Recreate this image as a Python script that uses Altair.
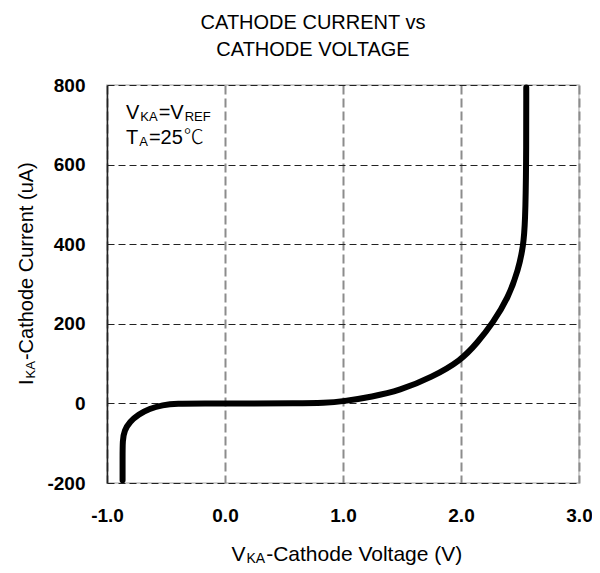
import altair as alt
import pandas as pd

# ---- data ----
volts = [-0.868, -0.868, -0.868, -0.853, -0.807, -0.735, -0.640, -0.530, -0.412,
         -0.20, 0.20, 0.60, 0.85, 1.00, 1.25, 1.476, 1.755, 2.00, 2.137, 2.27, 2.40,
         2.486, 2.528, 2.544, 2.553, 2.553]
current = [-193, -140, -92, -68, -46, -28, -13, -4, 0,
           0, 0, 0, 1, 5, 17, 32, 66, 108, 152, 202, 265,
           336, 395, 454, 600, 794]
x_ticks = [-1.0, 0.0, 1.0, 2.0, 3.0]
y_ticks = [-200, 0, 200, 400, 600, 800]
title_lines = ["CATHODE CURRENT vs", "CATHODE VOLTAGE"]

W, H = 472, 398
FONT = "Liberation Sans"
CJK = "Noto Sans CJK SC"

# approximate Arial advance widths (per 1000 em)
AW = {" ": 278, "(": 333, ")": 333, "-": 333, "=": 584, "2": 556, "5": 556,
      "A": 667, "C": 722, "E": 667, "F": 611, "I": 278, "K": 667, "R": 722,
      "T": 611, "V": 667, "a": 556, "d": 556, "e": 556, "g": 556, "h": 556,
      "l": 222, "n": 556, "o": 556, "r": 333, "t": 278, "u": 556}


def tw(s, size):
    return sum(AW.get(c, 1000) for c in s) * size / 1000.0


def run(pieces, x0, y0, main=20, sub=13, vertical=False):
    """pieces: list of (text, kind) with kind in main/sub/cjk; laid out as one run"""
    layers = []
    pos = 0.0
    for txt, kind in pieces:
        size = sub if kind == "sub" else main
        shift = 2 if kind == "sub" else 0
        font = CJK if kind == "cjk" else FONT
        if vertical:
            px, py, ang = x0 + shift, y0 - pos, 270
        else:
            px, py, ang = x0 + pos, y0 + shift, 0
        layers.append(
            alt.Chart(pd.DataFrame({"t": [txt]}))
            .mark_text(font=font, fontSize=size, align="left", baseline="alphabetic",
                       angle=ang, color="black",
                       fontWeight=200 if kind == "cjk" else "normal")
            .encode(text="t:N", x=alt.value(px), y=alt.value(py))
        )
        pos += tw(txt, size) + 1.0
    return layers


df = pd.DataFrame({"v": volts, "i": current, "k": list(range(len(volts)))})

fix_minus = "replace(datum.label, '\u2212', '-')"

curve = alt.Chart(df).mark_line(
    color="black", strokeWidth=6, interpolate="basis", strokeCap="round"
).encode(
    x=alt.X("v:Q", scale=alt.Scale(domain=[-1, 3], nice=False, zero=False),
            axis=alt.Axis(values=x_ticks, format=".1f", labelExpr=fix_minus, title=None,
                          grid=True, gridColor="#8c8c8c", gridDash=[9, 4], gridWidth=2,
                          domain=False, ticks=False, labelFlush=False, labelOverlap=False,
                          labelFont=FONT, labelFontSize=19, labelFontWeight="bold",
                          labelColor="black", labelPadding=23)),
    y=alt.Y("i:Q", scale=alt.Scale(domain=[-200, 800], nice=False, zero=False),
            axis=alt.Axis(values=y_ticks, labelExpr=fix_minus, title=None, grid=True,
                          gridColor="#222222", gridDash=[7, 4], gridWidth=1,
                          domain=True, domainColor="#222222", domainWidth=1.5,
                          ticks=False, labelFlush=False, labelOverlap=False,
                          labelFont=FONT, labelFontSize=19,
                          labelFontWeight="bold", labelColor="black", labelPadding=22)),
    order="k:Q",
)

texts = []
texts += run([("V", "main"), ("KA", "sub"), ("=V", "main"), ("REF", "sub")], 19, 34)
texts += run([("T", "main"), ("A", "sub"), ("=25", "main"), ("℃", "cjk")], 19, 59)
texts += run([("V", "main"), ("KA", "sub"), ("-Cathode Voltage (V)", "main")], 124.5, 476,
             main=21, sub=14)
texts += run([("I", "main"), ("KA", "sub"), ("-Cathode Current (uA)", "main")], -74, 300,
             vertical=True)

chart = alt.layer(curve, *texts).properties(
    width=W, height=H,
    autosize=alt.AutoSizeParams(type="none"),
    padding={"left": 99, "top": 77, "right": 13, "bottom": 82},
    title=alt.TitleParams(text=title_lines, font=FONT, fontSize=20, fontWeight="normal",
                          color="black", anchor="middle", dx=-30, offset=15,
                          lineHeight=27),
).configure_view(stroke="#c0c0c0", strokeWidth=1.5)

chart.save("out.html", embed_options={"renderer": "svg", "actions": False})
